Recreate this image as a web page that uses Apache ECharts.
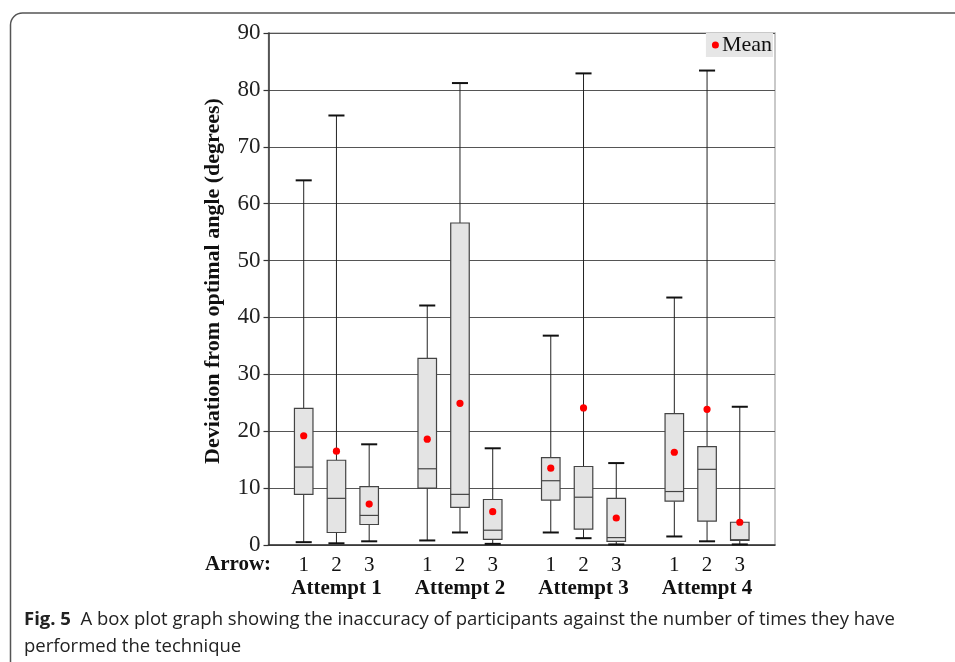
<!DOCTYPE html>
<html>
<head>
<meta charset="utf-8">
<script src="https://cdn.jsdelivr.net/npm/echarts@6/dist/echarts.min.js"></script>
<style>html,body{margin:0;padding:0;background:#fff;}#c{width:955px;height:662px;}</style>
</head>
<body>
<div id="c"></div>
<script>
// ---- data (attempt-major order: A1-arrow1, A1-arrow2, A1-arrow3, A2-arrow1, ...) ----
const attempts = ['Attempt 1', 'Attempt 2', 'Attempt 3', 'Attempt 4'];
const arrows = ['1', '2', '3'];
const whiskerLow  = [0.5, 0.3, 0.65,  0.8, 2.2, 0.2,  2.2, 1.2, 0.1,  1.5, 0.65, 0.1];
const q1          = [8.9, 2.2, 3.6,  10.0, 6.6, 1.0,  7.9, 2.8, 0.65, 7.7, 4.2, 0.8];
const median      = [13.7, 8.2, 5.2, 13.4, 8.9, 2.6,  11.3, 8.4, 1.3, 9.4, 13.3, 0.93];
const q3          = [24.0, 14.9, 10.25, 32.8, 56.6, 8.0, 15.35, 13.8, 8.2, 23.1, 17.3, 4.0];
const whiskerHigh = [64.1, 75.5, 17.7, 42.1, 81.2, 17.0, 36.8, 82.9, 14.4, 43.5, 83.4, 24.3];
const means       = [19.2, 16.5, 7.2, 18.6, 24.9, 5.85, 13.5, 24.1, 4.75, 16.3, 23.85, 4.0];
const yTicks = [0, 10, 20, 30, 40, 50, 60, 70, 80, 90];

const boxData = [];
const meanData = [];
attempts.forEach((a, ai) => {
  arrows.forEach((r, ri) => {
    const k = ai * arrows.length + ri;
    boxData.push([ai + 1, ri + 1, whiskerLow[k], q1[k], median[k], q3[k], whiskerHigh[k]]);
    meanData.push([ai + 1, ri + 1, means[k]]);
  });
});

const SERIF = 'Liberation Serif';
const OFFSET = 0.265, BOXW = 0.15, CAPW = 0.13;

function centerX(api) {
  const unit = api.size([1, 0])[0];
  return api.coord([api.value(0), 0])[0] + (api.value(1) - 2) * unit * OFFSET;
}

function renderBox(params, api) {
  const unit = api.size([1, 0])[0];
  const cx = centerX(api);
  const y = i => api.coord([0, api.value(i)])[1];
  const yLow = y(2), yQ1 = y(3), yMed = y(4), yQ3 = y(5), yHigh = y(6);
  const bw = unit * BOXW, cw = unit * CAPW;
  const ws = { stroke: '#222', lineWidth: 1 };
  const cs = { stroke: '#111', lineWidth: 2 };
  return {
    type: 'group',
    children: [
      { type: 'line', shape: { x1: cx, y1: yHigh, x2: cx, y2: yQ3 }, style: ws },
      { type: 'line', shape: { x1: cx, y1: yQ1, x2: cx, y2: yLow }, style: ws },
      { type: 'line', shape: { x1: cx - cw / 2, y1: yHigh, x2: cx + cw / 2, y2: yHigh }, style: cs },
      { type: 'line', shape: { x1: cx - cw / 2, y1: yLow, x2: cx + cw / 2, y2: yLow }, style: cs },
      { type: 'rect', shape: { x: cx - bw / 2, y: yQ3, width: bw, height: yQ1 - yQ3 },
        style: { fill: '#e4e4e4', stroke: '#444', lineWidth: 1.2 } },
      { type: 'line', shape: { x1: cx - bw / 2, y1: yMed, x2: cx + bw / 2, y2: yMed },
        style: { stroke: '#444', lineWidth: 1.2 } }
    ]
  };
}

function renderMean(params, api) {
  const cx = centerX(api);
  const cy = api.coord([0, api.value(2)])[1];
  return { type: 'circle', shape: { cx: cx, cy: cy, r: 3.6 }, style: { fill: '#ff0000' } };
}

const chart = echarts.init(document.getElementById('c'), null, { renderer: 'canvas' });
chart.setOption({
  animation: false,
  backgroundColor: '#fff',
  textStyle: { fontFamily: SERIF },
  grid: { left: 268.5, right: 180, top: 33, bottom: 117, show: true, borderColor: '#b8b8b8', borderWidth: 1.5 },
  legend: {
    data: [{ name: 'Mean', icon: 'circle', itemStyle: { color: '#ff0000' } }],
    right: 182, top: 33,
    backgroundColor: '#e6e6e6',
    padding: [1, 1, 1, 6],
    itemWidth: 7, itemHeight: 7, itemGap: 4,
    textStyle: { fontFamily: SERIF, fontSize: 22, color: '#111', padding: [0, 0, 0, -2] }
  },
  xAxis: {
    type: 'value', min: 0.45, max: 4.55,
    splitLine: { show: false },
    axisTick: { show: false },
    axisLine: { show: true, lineStyle: { color: '#333', width: 1.5 } },
    axisLabel: {
      customValues: [1, 2, 3, 4],
      margin: 8,
      color: '#111',
      formatter: v => arrows.map(r => '{n|' + r + '}').join('') + '\n{a|' + attempts[v - 1] + '}',
      rich: {
        n: { width: 32.7, align: 'center', fontSize: 21, lineHeight: 24, fontFamily: SERIF, color: '#111' },
        a: { fontSize: 21, fontWeight: 'bold', lineHeight: 24, fontFamily: SERIF, color: '#111' }
      }
    }
  },
  yAxis: {
    type: 'value', min: 0, max: 90, interval: 10,
    name: 'Deviation from optimal angle (degrees)',
    nameLocation: 'middle', nameGap: 44,
    nameTextStyle: { fontFamily: SERIF, fontSize: 22, fontWeight: 'bold', color: '#111', padding: [0, 0, 0, 16] },
    axisLine: { show: true, lineStyle: { color: '#333', width: 1.5 } },
    axisTick: { show: true, length: 5, lineStyle: { color: '#333', width: 1.2 } },
    axisLabel: { fontSize: 23, color: '#222', margin: 8, customValues: yTicks },
    splitLine: { show: true, lineStyle: { color: '#555', width: 1.2 } }
  },
  series: [
    { name: 'box', type: 'custom', renderItem: renderBox, data: boxData, clip: false, z: 3,
      encode: { x: 0, y: [2, 3, 4, 5, 6] } },
    { name: 'Mean', type: 'custom', renderItem: renderMean, data: meanData, clip: false, z: 4,
      itemStyle: { color: '#ff0000' }, encode: { x: 0, y: 2 } }
  ],
  graphic: [
    { type: 'rect', left: 8, top: 10.5, shape: { width: 1000, height: 700, r: 12 },
      style: { fill: 'none', stroke: '#555', lineWidth: 1.5 }, silent: true },
    { type: 'text', left: 205, top: 553,
      style: { text: 'Arrow:', fontFamily: SERIF, fontSize: 21, fontWeight: 'bold', fill: '#111', lineHeight: 24 } },
    { type: 'text', left: 24, top: 606,
      style: {
        text: '{b|Fig. 5}  A box plot graph showing the inaccuracy of participants against the number of times they have\nperformed the technique',
        fontFamily: 'Open Sans', fontSize: 18.5, fill: '#222', lineHeight: 27,
        rich: { b: { fontFamily: 'Open Sans', fontSize: 18.5, fontWeight: 'bold', fill: '#222', lineHeight: 27 } }
      } }
  ]
});
</script>
</body>
</html>
